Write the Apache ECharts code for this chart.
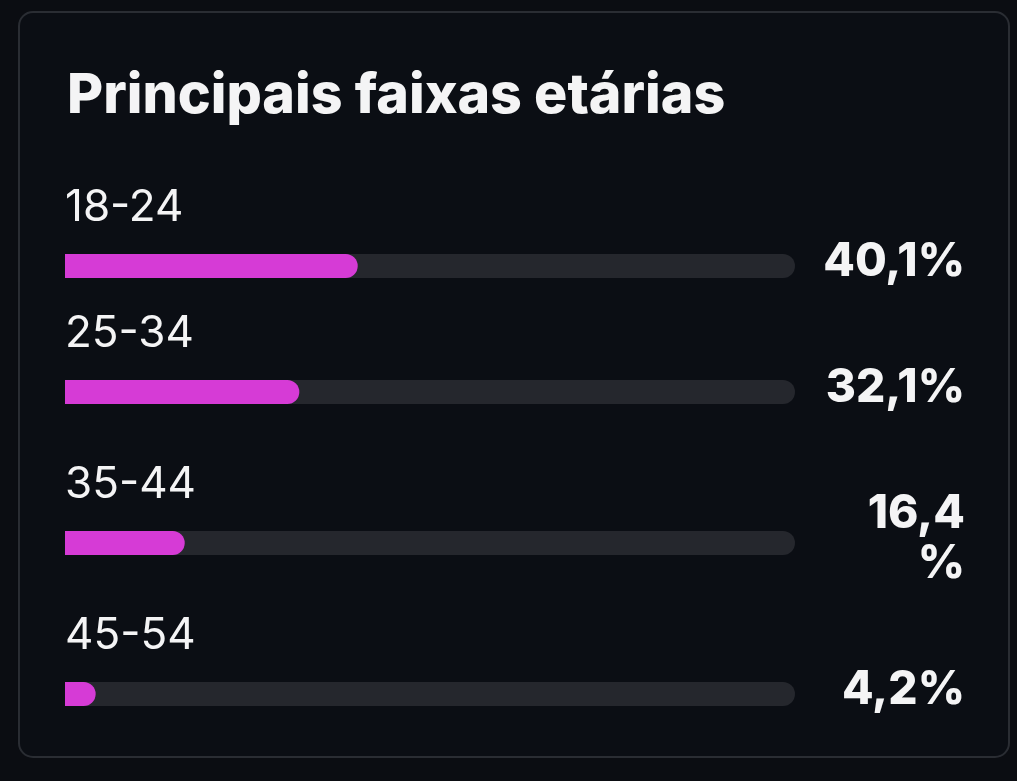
<!DOCTYPE html>
<html>
<head>
<meta charset="utf-8">
<style>
  html, body { margin: 0; padding: 0; background: #0b0d12; }
  #chart { width: 1017px; height: 781px; }
</style>
<script src="https://cdn.jsdelivr.net/npm/echarts@6/dist/echarts.min.js"></script>
</head>
<body>
<div id="chart"></div>
<script>
// data
var ageGroups = ['18-24', '25-34', '35-44', '45-54'];
var sharePct = [40.1, 32.1, 16.4, 4.2];
var scaleMax = 100;

// layout: vertical centre of each bar row (the 35-44 row is taller because its label wraps)
var rowCentres = [266, 392, 543, 694];
var barH = 24;

var fillColor = '#d63bd6';
var trackColor = '#25272d';
var textColor = '#f4f4f5';
var fontFam = 'Inter, "Noto Sans", sans-serif';

function fmtPct(v) {
	return v.toFixed(1).replace('.', ',') + '%';
}

var grids = [], xAxes = [], yAxes = [], series = [];

ageGroups.forEach(function(cat, i) {
	grids.push({ left: 65, width: 730, top: rowCentres[i] - barH / 2, height: barH });
	xAxes.push({ gridIndex: i, type: 'value', min: 0, max: scaleMax, show: false });
	yAxes.push({
		gridIndex: i,
		type: 'category',
		data: [cat],
		axisLine: { show: false },
		axisTick: { show: false },
		axisLabel: {
			inside: true,
			margin: 0,
			color: textColor,
			fontFamily: fontFam,
			fontSize: 44,
			verticalAlign: 'bottom',
			lineHeight: 48,
			padding: [0, 0, 34, 0]
		}
	});

	var labelExtra = {};
	// the long value label wraps in the original layout
	if (cat === '35-44') labelExtra = { width: 125, overflow: 'breakAll', lineHeight: 50 };

	// grey track, carries the value label
	series.push({
		type: 'bar',
		xAxisIndex: i,
		yAxisIndex: i,
		barWidth: barH,
		silent: true,
		itemStyle: { color: trackColor, borderRadius: barH / 2 },
		label: Object.assign({
			show: true,
			position: 'right',
			distance: 170,
			align: 'right',
			offset: [0, -4],
			color: textColor,
			fontFamily: fontFam,
			fontSize: 46,
			fontWeight: 800,
			formatter: function() { return fmtPct(sharePct[i]); }
		}, labelExtra),
		data: [scaleMax],
		z: 1
	});

	// magenta fill
	series.push({
		type: 'bar',
		xAxisIndex: i,
		yAxisIndex: i,
		barWidth: barH,
		barGap: '-100%',
		itemStyle: { color: fillColor, borderRadius: [0, barH / 2, barH / 2, 0] },
		data: [sharePct[i]],
		z: 2
	});
});

var chart = echarts.init(document.getElementById('chart'));
chart.setOption({
	backgroundColor: '#0b0d12',
	animation: false,
	title: {
		text: 'Principais faixas etárias',
		left: 62,
		top: 63,
		textStyle: { color: textColor, fontFamily: fontFam, fontSize: 55.5, fontWeight: 800 }
	},
	graphic: [{
		type: 'rect',
		shape: { x: 19, y: 12, width: 990, height: 745, r: 14 },
		style: { fill: '#0b0e14', stroke: '#2a2d33', lineWidth: 2 },
		z: -10,
		silent: true
	}],
	grid: grids,
	xAxis: xAxes,
	yAxis: yAxes,
	series: series
});
</script>
</body>
</html>
